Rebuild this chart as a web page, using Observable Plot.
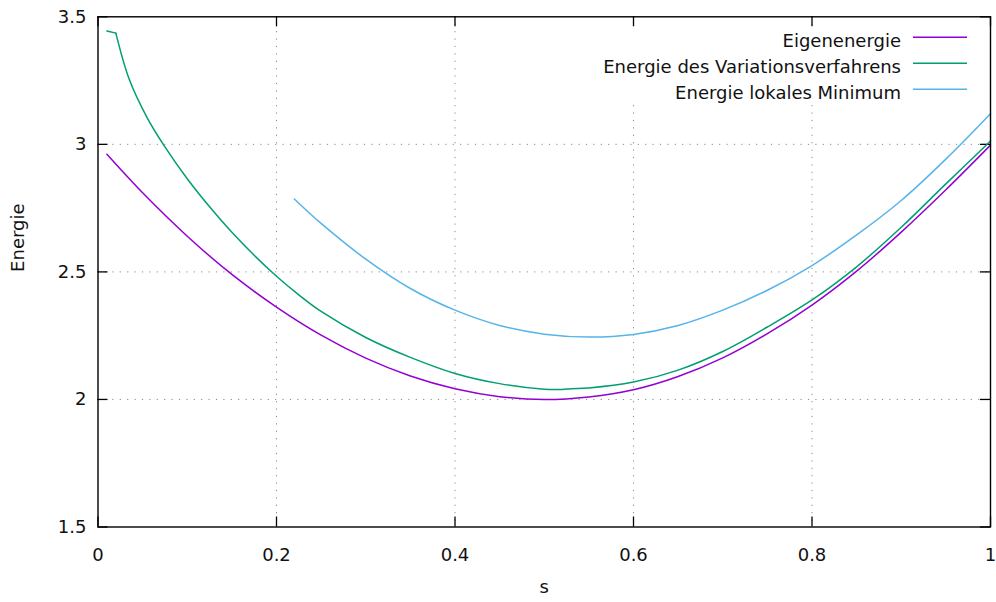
<!DOCTYPE html>
<html>
<head>
<meta charset="utf-8">
<script src="https://cdn.jsdelivr.net/npm/d3@7"></script>
<script src="https://cdn.jsdelivr.net/npm/@observablehq/plot@0.6"></script>
<style>
  html, body { margin: 0; padding: 0; background: #fff; }
  #chart svg { display: block; }
</style>
</head>
<body>
<div id="chart"></div>
<script>
// Energie über s: Eigenenergie, Variationsverfahren, lokales Minimum
const seriesNames = ["Eigenenergie", "Energie des Variationsverfahrens", "Energie lokales Minimum"];
const seriesColors = ["#9400d3", "#009e73", "#56b4e9"];

const eigenS = [0.01, 0.05, 0.1, 0.15, 0.2, 0.25, 0.3, 0.35, 0.4, 0.45, 0.5, 0.55, 0.6, 0.65, 0.7, 0.75, 0.8, 0.85, 0.9, 0.95, 1.0];
const eigenE = [2.961, 2.81, 2.64, 2.49, 2.362, 2.252, 2.162, 2.092, 2.042, 2.011, 2.0, 2.01, 2.038, 2.09, 2.163, 2.258, 2.37, 2.503, 2.656, 2.822, 2.997];

const variS = [0.01, 0.02, 0.035, 0.055, 0.075, 0.1, 0.125, 0.15, 0.175, 0.2, 0.225, 0.25, 0.3, 0.35, 0.4, 0.45, 0.5, 0.52, 0.53, 0.55, 0.6, 0.65, 0.7, 0.75, 0.8, 0.85, 0.9, 0.95, 1.0];
const variE = [3.444, 3.436, 3.255, 3.105, 2.99, 2.865, 2.755, 2.655, 2.565, 2.483, 2.41, 2.345, 2.243, 2.165, 2.102, 2.062, 2.04, 2.039, 2.042, 2.045, 2.068, 2.115, 2.188, 2.284, 2.39, 2.52, 2.675, 2.845, 3.013];

const lokalS = [0.22, 0.25, 0.3, 0.35, 0.4, 0.45, 0.5, 0.55, 0.6, 0.65, 0.7, 0.75, 0.8, 0.85, 0.9, 0.95, 1.0];
const lokalE = [2.786, 2.69, 2.55, 2.435, 2.35, 2.29, 2.256, 2.245, 2.255, 2.29, 2.35, 2.428, 2.525, 2.645, 2.78, 2.942, 3.12];

const xTicks = [0, 0.2, 0.4, 0.6, 0.8, 1];
const yTicks = [1.5, 2, 2.5, 3, 3.5];

const toRows = (xs, ys, name) => xs.map((s, i) => ({s, e: ys[i], name}));
const eigen = toRows(eigenS, eigenE, seriesNames[0]);
const vari = toRows(variS, variE, seriesNames[1]);
const lokal = toRows(lokalS, lokalE, seriesNames[2]);
// the variational curve has a corner at its second sample: draw the first
// step straight and the rest smooth, sharing that sample
const variHead = vari.slice(0, 2);
const variTail = vari.slice(1);

const W = 996, H = 602;
const mL = 97.5, mR = 6, mT = 16.3, mB = 75.5;
const innerW = W - mL - mR, innerH = H - mT - mB;
const font = "DejaVu Sans, sans-serif";
const fs = 18;
const gridStyle = {stroke: "#8a8a8a", strokeOpacity: 1, strokeWidth: 1, strokeDasharray: "1.2,6.2"};
const lineStyle = {x: "s", y: "e", strokeWidth: 1.5};

const plot = Plot.plot({
  width: W,
  height: H,
  marginLeft: mL,
  marginRight: mR,
  marginTop: mT,
  marginBottom: mB,
  style: {fontFamily: font, fontSize: fs + "px", color: "#111", background: "#fff"},
  x: {domain: [0, 1], label: null},
  y: {domain: [1.5, 3.5], label: null},
  marks: [
    // dotted grid
    Plot.ruleX(xTicks.slice(1, -1), {x: d => d, ...gridStyle}),
    Plot.ruleY(yTicks.slice(1, -1), {y: d => d, ...gridStyle}),
    // inward ticks on all four sides
    Plot.ruleX(xTicks, {x: d => d, insetTop: innerH - 10, stroke: "#000", strokeWidth: 1.3}),
    Plot.ruleX(xTicks, {x: d => d, insetBottom: innerH - 10, stroke: "#000", strokeWidth: 1.3}),
    Plot.ruleY(yTicks, {y: d => d, insetRight: innerW - 10, stroke: "#000", strokeWidth: 1.3}),
    Plot.ruleY(yTicks, {y: d => d, insetLeft: innerW - 10, stroke: "#000", strokeWidth: 1.3}),
    // tick labels
    Plot.axisX({ticks: xTicks, tickSize: 0, tickPadding: 21, tickFormat: d => `${d}`, label: null}),
    Plot.axisY({ticks: yTicks, tickSize: 0, tickPadding: 11.5, tickFormat: d => `${d}`, label: null}),
    // axis titles
    Plot.text(["Energie"], {text: d => d, frameAnchor: "left", rotate: -90, dx: -80, fill: "#111"}),
    Plot.text(["s"], {text: d => d, frameAnchor: "bottom", dy: 66, fill: "#111"}),
    // curves
    Plot.line(eigen, {...lineStyle, stroke: seriesColors[0], curve: "catmull-rom"}),
    Plot.line(variHead, {...lineStyle, stroke: seriesColors[1], curve: "linear"}),
    Plot.line(variTail, {...lineStyle, stroke: seriesColors[1], curve: "catmull-rom"}),
    Plot.line(lokal, {...lineStyle, stroke: seriesColors[2], curve: "catmull-rom"}),
    Plot.frame({stroke: "#000", strokeWidth: 1.4})
  ]
});

// key in the upper right corner, opaque background
const svg = d3.select(plot);
const key = svg.append("g").attr("font-family", font).attr("font-size", fs);
key.append("rect").attr("x", 592).attr("y", 27).attr("width", 383).attr("height", 73).attr("fill", "#fff");
const rowY = [37.3, 63.3, 89.3];
seriesNames.forEach((name, i) => {
  key.append("text")
    .attr("x", 901).attr("y", rowY[i] + 9.4)
    .attr("text-anchor", "end").attr("fill", "#111")
    .text(name);
  key.append("line")
    .attr("x1", 913).attr("x2", 967)
    .attr("y1", rowY[i]).attr("y2", rowY[i])
    .attr("stroke", seriesColors[i]).attr("stroke-width", 1.5);
});

document.getElementById("chart").appendChild(plot);
</script>
</body>
</html>
